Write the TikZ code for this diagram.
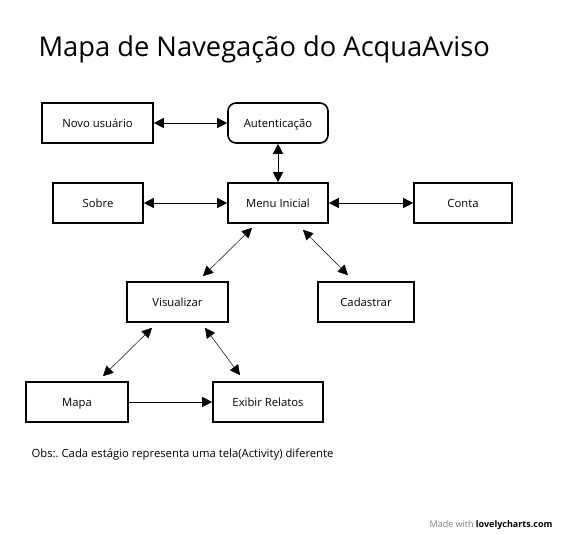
\documentclass[tikz,border=0pt]{standalone}
\usepackage{fontspec}
\setmainfont{Open Sans}
\usetikzlibrary{arrows.meta}
\usetikzlibrary{calc}
\usetikzlibrary{positioning}
\tikzset{
    tela/.style={draw,line width=1.6pt,minimum height=40pt,inner sep=0pt,
        text height=11pt,text depth=3pt,
        font=\fontsize{11.3}{13}\selectfont},
    seta/.style={line width=0.8pt,{Triangle[length=10pt,width=10pt]}-{Triangle[length=10pt,width=10pt]}},
    fina/.style={line width=0.5pt,{Triangle[length=10pt,width=10pt]}-{Triangle[length=10pt,width=10pt]}}
}

\begin{document}
\begin{tikzpicture}[x=1pt,y=-1pt]
    \useasboundingbox (0,0) rectangle (565,535);

    \node[anchor=base west,font=\fontsize{27.3}{32}\selectfont] (titulo) at (35,57)
        {Mapa de Navegação do AcquaAviso};

    % telas
    \foreach \nome/\x/\y/\w/\txt in {
        novo/97.5/123/111/Novo usuário,
        sobre/98/203/90/Sobre,
        menu/278/203/100/Menu Inicial,
        conta/463/203/98/Conta,
        visual/177.5/302/101/Visualizar,
        cadastrar/366/302/96/Cadastrar,
        mapa/77/402/102/Mapa,
        exibir/268/402/110/Exibir Relatos}{%
        \node[tela,minimum width=\w pt] (\nome) at (\x,\y) {\txt};
    }
    \node[tela,minimum width=100pt,rounded corners=8pt] (auth) at (278,123) {Autenticação};

    \draw[seta] (novo) -- (auth);
    \draw[seta] (auth) -- (menu);
    \draw[seta] (sobre) -- (menu);
    \draw[seta] (menu) -- (conta);
    \draw[fina] ($(menu.south)+(-26,4)$) -- ($(visual.north)+(25.5,-5)$);
    \draw[fina] ($(menu.south)+(25,6)$) -- ($(cadastrar.north)+(-18,-6)$);
    \draw[fina] ($(visual.south)+(-25.5,5)$) -- ($(mapa.north)+(26,-5)$);
    \draw[fina] ($(visual.south)+(27.5,5)$) -- ($(exibir.north)+(-28,-6)$);
    \draw[line width=0.8pt,-{Triangle[length=10pt,width=10pt]}] (mapa) -- (exibir);

    \node[anchor=base west,font=\fontsize{11.3}{13}\selectfont] (obs) at (28,457)
        {Obs:.\ Cada estágio representa uma tela(Activity) diferente};
    \node[anchor=base east,font=\fontsize{9}{11}\selectfont] (marca) at (556,527)
        {\textcolor{gray}{Made with} \textbf{lovelycharts.com}};
\end{tikzpicture}
\end{document}
